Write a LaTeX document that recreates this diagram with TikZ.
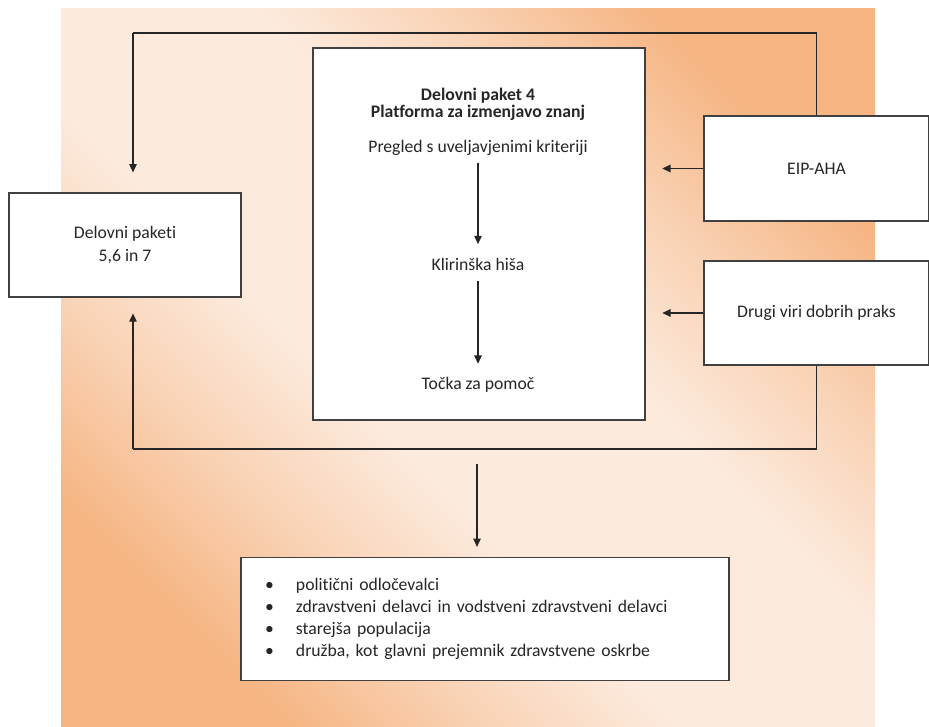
\documentclass[tikz,border=0pt]{standalone}
\usepackage{fontspec}
\setmainfont{Carlito}[Ligatures={NoCommon}]
\usepackage{xcolor}
\usepackage{tikz}
\usetikzlibrary{positioning, arrows.meta, calc}
\definecolor{bgorange}{HTML}{F6B583}
\definecolor{bgmid}{HTML}{F9D2B4}
\definecolor{bgpale}{HTML}{FCEADD}
\definecolor{boxline}{HTML}{404040}
\definecolor{textgray}{HTML}{262626}
\pgfdeclarehorizontalshading{bgdiag}{100bp}{color(0bp)=(bgorange); color(25bp)=(bgorange);
  color(34bp)=(bgmid); color(43bp)=(bgpale); color(57bp)=(bgpale); color(66bp)=(bgmid); color(75bp)=(bgorange); color(100bp)=(bgorange)}

\begin{document}
\begin{tikzpicture}[x=0.6pt, y=-0.6pt,
    font=\fontsize{10.6}{13.3}\selectfont,
    box/.style={draw=boxline, line width=0.7pt, fill=white, align=center, text=textgray, inner sep=0pt},
    txt/.style={align=center, text=textgray, inner sep=1pt},
    arr/.style={draw=black!85, line width=0.75pt, -{Triangle[length=5pt, width=4.5pt]}},
    link/.style={draw=black!85, line width=0.75pt}]
  \useasboundingbox (0,0) rectangle (929,727);
  % background panel
  \begin{scope}[y=0.6pt]
    \shade[shading=bgdiag, shading angle=45] (61,-9) rectangle (875,-727);
  \end{scope}

  % boxes
  \node[box, minimum width=199.2pt, minimum height=223.2pt] (wp4) at (479,234) {};
  \node[box, minimum width=139.2pt, minimum height=62.4pt] (dp) at (125,245) {Delovni paketi\\5,6 in 7};
  \node[box, minimum width=135pt, minimum height=63pt] (eip) at (816.5,168.5) {EIP-AHA};
  \node[box, minimum width=135pt, minimum height=62.4pt] (drugi) at (816.5,313) {Drugi viri dobrih praks};
  \node[box, minimum width=292.8pt, minimum height=73.8pt, align=left, text width=264pt, inner xsep=14.4pt] (list) at (485,619) {%
    \makebox[18.6pt][l]{\textbullet}politični odločevalci\\
    \makebox[18.6pt][l]{\textbullet}zdravstveni delavci in vodstveni zdravstveni delavci\\
    \makebox[18.6pt][l]{\textbullet}starejša populacija\\
    \makebox[18.6pt][l]{\textbullet}družba, kot glavni prejemnik zdravstvene oskrbe};

  % contents of work package 4
  \node[txt, font=\fontsize{10.6}{10.2}\selectfont\bfseries] (title) at (478,104) {Delovni paket 4\\Platforma za izmenjavo znanj};
  \node[txt] (review) at (478,148) {Pregled s uveljavjenimi kriteriji};
  \node[txt] (clear) at (478,264) {Klirinška hiša};
  \node[txt] (help) at (478,385) {Točka za pomoč};

  \draw[arr, shorten <=3pt, shorten >=7pt] (review) -- (clear);
  \draw[arr, shorten <=5pt, shorten >=7pt] (clear) -- (help);

  % loop round the platform
  \coordinate (tl) at (133,33);
  \coordinate (bl) at (133,449);
  \coordinate (mid) at (477,449);
  \draw[link] (eip.north) |- (tl);
  \draw[arr, shorten >=12pt] (tl) -- (dp.north -| tl);
  \draw[link] (drugi.south) |- (bl);
  \draw[arr, shorten >=9.5pt] (bl) -- (dp.south -| bl);

  % inputs
  \draw[arr, shorten >=10pt] (eip.west) -- (wp4.east |- eip.west);
  \draw[arr, shorten >=10pt] (drugi.west) -- (wp4.east |- drugi.west);

  % output
  \draw[arr, shorten <=9pt, shorten >=6pt] (mid) -- (mid |- list.north);
\end{tikzpicture}
\end{document}
